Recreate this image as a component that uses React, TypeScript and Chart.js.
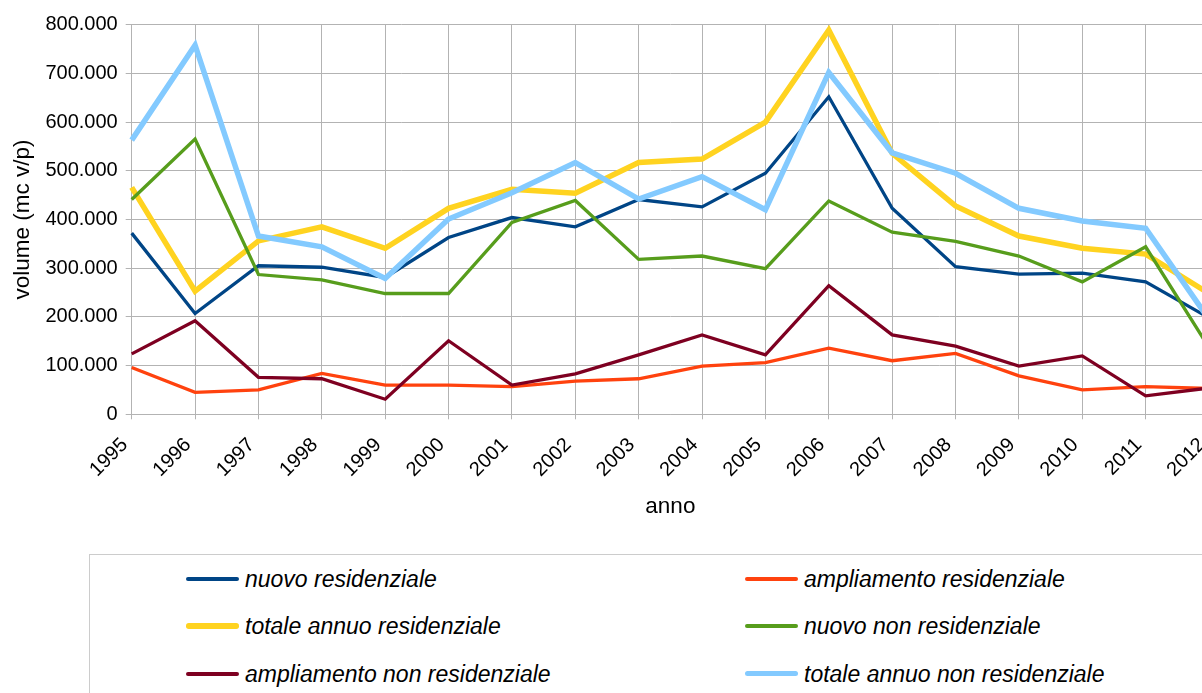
import React, { useEffect, useRef } from "react";
import { Chart, registerables } from "chart.js";

Chart.register(...registerables);

const years = ["1995","1996","1997","1998","1999","2000","2001","2002","2003","2004","2005","2006","2007","2008","2009","2010","2011","2012"];

const nuovoResidenziale = [372000,207000,305000,302000,281000,363000,404000,385000,441000,426000,495000,652000,423000,303000,288000,290000,272000,198000];
const ampliamentoResidenziale = [96000,45000,50000,84000,60000,60000,57000,68000,73000,99000,106000,136000,110000,125000,79000,50000,57000,53000];
const totaleAnnuoResidenziale = [466000,253000,356000,385000,341000,423000,462000,454000,517000,524000,600000,789000,536000,428000,366000,341000,329000,248000];
const nuovoNonResidenziale = [441000,565000,287000,276000,248000,248000,394000,439000,318000,325000,299000,438000,374000,355000,325000,272000,344000,137000];
const ampliamentoNonResidenziale = [124000,192000,76000,73000,31000,151000,60000,83000,122000,163000,122000,264000,163000,140000,99000,120000,38000,54000];
const totaleAnnuoNonResidenziale = [563000,758000,366000,344000,279000,401000,455000,517000,442000,488000,420000,702000,537000,495000,423000,397000,382000,195000];

const seriesNames = [
  "nuovo residenziale",
  "ampliamento residenziale",
  "totale annuo residenziale",
  "nuovo non residenziale",
  "ampliamento non residenziale",
  "totale annuo non residenziale",
];
const seriesColors = ["#004586", "#ff420e", "#ffd320", "#579d1c", "#7e0021", "#83caff"];
const seriesWidths = [3.3, 3.3, 5.5, 3.3, 3.3, 5.5];
const seriesData = [
  nuovoResidenziale,
  ampliamentoResidenziale,
  totaleAnnuoResidenziale,
  nuovoNonResidenziale,
  ampliamentoNonResidenziale,
  totaleAnnuoNonResidenziale,
];

const FONT = "'Liberation Sans', Arial, sans-serif";
const GRID = "#b3b3b3";

function fmt(v: number): string {
  return String(Math.round(v)).replace(/\B(?=(\d{3})+(?!\d))/g, ".");
}

export default function App() {
  const ref = useRef<HTMLCanvasElement | null>(null);

  useEffect(() => {
    if (!ref.current) return;
    const chart = new Chart(ref.current, {
      type: "line",
      data: {
        labels: years,
        datasets: seriesData.map((d, i) => ({
          label: seriesNames[i],
          data: d,
          borderColor: seriesColors[i],
          backgroundColor: seriesColors[i],
          borderWidth: seriesWidths[i],
          pointRadius: 0,
          tension: 0,
          fill: false,
          order: seriesData.length - i,
        })),
      },
      options: {
        responsive: false,
        animation: false,
        layout: { padding: { left: 0, top: 24.7, right: 30, bottom: 0 } },
        plugins: { legend: { display: false }, tooltip: { enabled: false } },
        scales: {
          x: {
            type: "category",
            offset: false,
            grid: { color: GRID, lineWidth: 1, tickLength: 5, drawTicks: true },
            border: { color: GRID },
            ticks: {
              color: "#000",
              font: { family: FONT, size: 20 },
              minRotation: 45,
              maxRotation: 45,
              autoSkip: false,
              padding: 14,
              labelOffset: -7,
            },
            title: {
              display: true,
              text: "anno",
              color: "#000",
              font: { family: FONT, size: 22.5 },
              padding: { top: 0, bottom: 0 },
            },
            afterFit: (s: any) => {
              s.height = 105.7;
            },
          },
          y: {
            min: 0,
            max: 800000,
            grid: { color: GRID, lineWidth: 1, tickLength: 6, drawTicks: true },
            border: { color: GRID },
            ticks: {
              stepSize: 100000,
              color: "#000",
              font: { family: FONT, size: 20 },
              padding: 8,
              callback: (v: any) => fmt(Number(v)),
            },
            title: {
              display: true,
              text: "volume (mc v/p)",
              color: "#000",
              font: { family: FONT, size: 22.5 },
              padding: { top: 8.8, bottom: 0 },
            },
            afterFit: (s: any) => {
              s.width = 131.7;
            },
          },
        },
      },
    });
    return () => chart.destroy();
  }, []);

  const legendPos = [
    { x: 186, y: 578.5 },
    { x: 745, y: 578.5 },
    { x: 186, y: 626 },
    { x: 745, y: 626 },
    { x: 186, y: 673.5 },
    { x: 745, y: 673.5 },
  ];

  return (
    <div
      style={{
        position: "absolute",
        left: 0,
        top: 0,
        width: 1202,
        height: 693,
        overflow: "hidden",
        background: "#fff",
      }}
    >
      <canvas ref={ref} width={1240} height={520} style={{ position: "absolute", left: 0, top: 0 }} />
      <div
        style={{
          position: "absolute",
          left: 89,
          top: 554,
          width: 1300,
          height: 300,
          border: "1.5px solid #cccccc",
          boxSizing: "border-box",
        }}
      />
      {seriesNames.map((name, i) => {
        const p = legendPos[i];
        const w = seriesWidths[i] > 4 ? 5.5 : 4;
        return (
          <React.Fragment key={name}>
            <div
              style={{
                position: "absolute",
                left: p.x,
                top: p.y - w / 2,
                width: 53,
                height: w,
                borderRadius: w / 2,
                background: seriesColors[i],
              }}
            />
            <div
              style={{
                position: "absolute",
                left: p.x + 59,
                top: p.y - 14,
                height: 28,
                lineHeight: "28px",
                fontFamily: FONT,
                fontStyle: "italic",
                fontSize: 23,
                color: "#000",
                whiteSpace: "nowrap",
              }}
            >
              {name}
            </div>
          </React.Fragment>
        );
      })}
    </div>
  );
}
